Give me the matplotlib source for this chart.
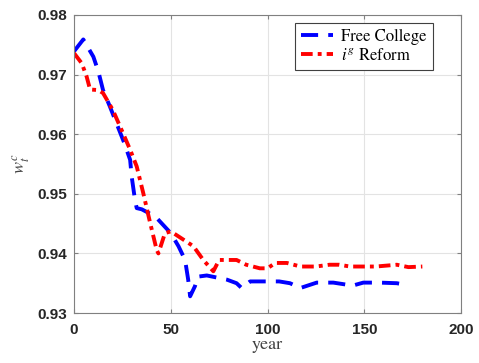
import matplotlib.pyplot as plt

# Free College
x_fc = [0, 4.8, 10, 12.6, 15, 18.6, 22, 26, 29, 29.8, 31.5, 32.4, 35, 42, 50, 54,
        57.4, 59, 60, 62.5, 64, 68.6, 79, 84, 86.6, 91, 99.5, 106, 111.6, 117,
        125.4, 134, 144, 149.5, 158, 166.8, 172]
y_fc = [0.9739, 0.9759, 0.9730, 0.9705, 0.9674, 0.9646, 0.9618, 0.9585, 0.9557,
        0.9529, 0.9490, 0.9476, 0.9474, 0.9462, 0.9434, 0.9412, 0.9389, 0.9356,
        0.9328, 0.9345, 0.9361, 0.9363, 0.9356, 0.9350, 0.9342, 0.9353, 0.9353,
        0.9353, 0.9350, 0.9342, 0.9351, 0.9351, 0.9346, 0.9351, 0.9351, 0.9350,
        0.9347]

# i^g Reform
x_ig = [0, 4, 6.5, 8.3, 12.6, 15, 20, 24.6, 29, 32.4, 35.8, 39, 42.7, 43.6, 47, 50,
        58, 61.7, 66.8, 72, 75, 84, 89, 96, 100, 104, 110, 117, 125, 132, 137,
        142.6, 156, 166.8, 172.8, 180]
y_ig = [0.9736, 0.9719, 0.9697, 0.9675, 0.9674, 0.9669, 0.9641, 0.9607, 0.9574,
        0.9546, 0.9501, 0.9456, 0.9406, 0.9400, 0.9434, 0.9437, 0.9420, 0.9412,
        0.9389, 0.9370, 0.9389, 0.9389, 0.9381, 0.9375, 0.9375, 0.9384, 0.9384,
        0.9378, 0.9378, 0.9381, 0.9381, 0.9378, 0.9378, 0.9381, 0.9377, 0.9378]

plt.rcParams['mathtext.fontset'] = 'stix'

fig = plt.figure(figsize=(4.79, 3.63), dpi=100)
ax = fig.add_axes([0.1545, 0.1377, 0.808, 0.821])

lw = 2.8
l1, = ax.plot(x_fc, y_fc, color='#0000ff', lw=lw, label='Free College')
l1.set_dashes((4.4, 2.6))
l2, = ax.plot(x_ig, y_ig, color='#ff0000', lw=lw, label='$i^g$ Reform')
l2.set_dashes((3.0, 1.3, 1.0, 1.3))
for l in (l1, l2):
    l.set_dash_capstyle('butt')

ax.set_xlim(0, 200)
ax.set_ylim(0.93, 0.98)
ax.set_xticks([0, 50, 100, 150, 200])
ax.set_yticks([0.93, 0.94, 0.95, 0.96, 0.97, 0.98])
ax.set_yticklabels(['0.93', '0.94', '0.95', '0.96', '0.97', '0.98'])
ax.grid(True, color='#e3e3e3', lw=0.8)
ax.set_axisbelow(True)
for s in ax.spines.values():
    s.set_color('#808080')
    s.set_linewidth(0.8)
ax.tick_params(direction='in', top=True, right=True, length=3, color='#808080',
               labelsize=11, labelcolor='#262626')
ax.tick_params(axis='x', pad=7)
ax.tick_params(axis='y', pad=5)
for t in ax.get_xticklabels() + ax.get_yticklabels():
    t.set_fontweight('bold')
    t.set_family('Liberation Sans')

ax.set_xlabel('year', family='STIXGeneral', fontsize=13, color='#404040', labelpad=0)
ax.set_ylabel('$w_t^c$', fontsize=13, color='#404040', labelpad=4)

leg = ax.legend(loc='upper right', bbox_to_anchor=(0.935, 0.985), fancybox=False,
                framealpha=1, edgecolor='#404040', handlelength=1.9,
                prop={'family': 'STIXGeneral', 'size': 12}, borderpad=0.35,
                labelspacing=0.2, handletextpad=0.5, borderaxespad=0.2)
leg.get_frame().set_linewidth(0.8)

fig.savefig('out.png', dpi=100)
